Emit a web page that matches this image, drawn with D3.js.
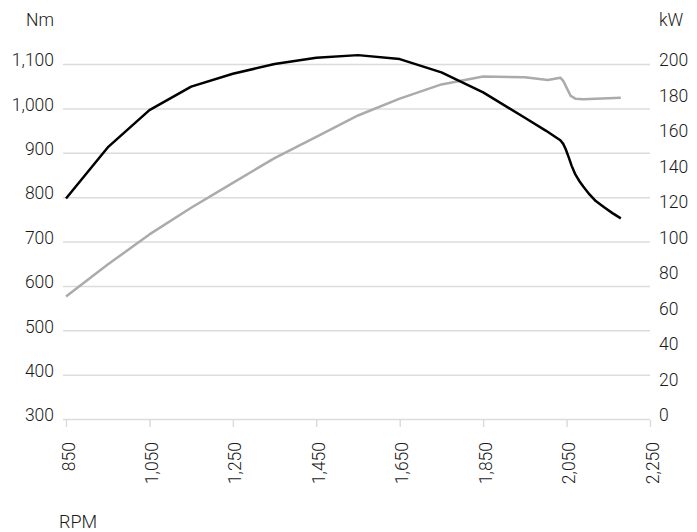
<!DOCTYPE html>
<html>
<head>
<meta charset="utf-8">
<script src="https://cdn.jsdelivr.net/npm/d3@7"></script>
<style>
  body { margin: 0; background: #fff; }
  svg text { font-family: Roboto, "Noto Sans", sans-serif; font-weight: 300; fill: #1a1a1a; }
</style>
</head>
<body>
<svg id="chart"></svg>
<script>
// engine speed (RPM)
const rpm = [850, 950, 1050, 1150, 1250, 1350, 1450, 1550, 1650, 1750, 1850, 1950, 2000, 2035, 2042, 2048, 2055, 2062, 2070, 2080, 2090, 2105, 2120, 2140, 2160, 2180];
// torque, Nm (black)
const torque = [797, 912, 996, 1049, 1078, 1100, 1114, 1120, 1111, 1081, 1036, 979, 950, 928, 920, 908, 890, 871, 853, 837, 824, 806, 791, 777, 764, 752];

const powerRpm = [850, 950, 1050, 1150, 1250, 1350, 1450, 1550, 1650, 1750, 1850, 1950, 2005, 2035, 2042, 2060, 2072, 2090, 2180];
// power, kW (grey)
const power = [69, 87, 104, 119, 133, 147, 159, 171, 180.5, 188.5, 193, 192.5, 191, 192.3, 190.5, 182, 180.4, 180.2, 181];

const xTicks = [850, 1050, 1250, 1450, 1650, 1850, 2050, 2250];
const nmTicks = [300, 400, 500, 600, 700, 800, 900, 1000, 1100];
const kwTicks = [0, 20, 40, 60, 80, 100, 120, 140, 160, 180, 200];

const w = 697, h = 532;
const svg = d3.select('#chart').attr('width', w).attr('height', h);

// scales
const x = d3.scaleLinear().domain([850, 2250]).range([66, 650]);
const yNm = d3.scaleLinear().domain([300, 1100]).range([419, 64]);
const yKw = d3.scaleLinear().domain([0, 200]).range([419, 64]);

const fmt = d3.format(',');
const grid = '#dcdcdc';

// left axis + gridlines
const left = svg.append('g')
  .attr('transform', 'translate(63,0)')
  .call(d3.axisLeft(yNm).tickValues(nmTicks).tickFormat(fmt).tickSize(-587).tickPadding(9));
left.select('.domain').remove();
left.selectAll('.tick line').attr('stroke', grid).attr('stroke-width', 1.5);
left.selectAll('.tick text').attr('font-size', 17.5).attr('dy', '0.1em');

// right axis labels
const right = svg.append('g')
  .attr('transform', 'translate(650,0)')
  .call(d3.axisRight(yKw).tickValues(kwTicks).tickSize(0).tickPadding(9));
right.select('.domain').remove();
right.selectAll('.tick text').attr('font-size', 17.5).attr('dy', '0.1em');

// bottom axis
const bottom = svg.append('g')
  .attr('transform', 'translate(0,420)')
  .call(d3.axisBottom(x).tickValues(xTicks).tickFormat(fmt).tickSize(7));
bottom.select('.domain').remove();
bottom.selectAll('.tick line').attr('stroke', grid).attr('stroke-width', 1.5);
bottom.selectAll('.tick text')
  .attr('font-size', 17.5)
  .attr('text-anchor', 'end')
  .attr('transform', 'translate(2,22) rotate(-90)')
  .attr('x', 0).attr('y', 0).attr('dy', '0.35em');

// lines
const torqueLine = d3.line()
  .x((d, i) => x(rpm[i]))
  .y(d => yNm(d));
const powerLine = d3.line()
  .x((d, i) => x(powerRpm[i]))
  .y(d => yKw(d));

svg.append('path')
  .datum(power)
  .attr('fill', 'none')
  .attr('stroke', '#ababab')
  .attr('stroke-width', 2.5)
  .attr('stroke-linejoin', 'round')
  .attr('d', powerLine);

svg.append('path')
  .datum(torque)
  .attr('fill', 'none')
  .attr('stroke', '#000')
  .attr('stroke-width', 2.5)
  .attr('stroke-linejoin', 'round')
  .attr('d', torqueLine);

// unit labels
svg.append('text').attr('x', 54).attr('y', 26).attr('text-anchor', 'end').attr('font-size', 17.5).text('Nm');
svg.append('text').attr('x', 659).attr('y', 26).attr('font-size', 17.5).text('kW');
svg.append('text').attr('x', 59).attr('y', 528).attr('font-size', 18).text('RPM');
</script>
</body>
</html>
